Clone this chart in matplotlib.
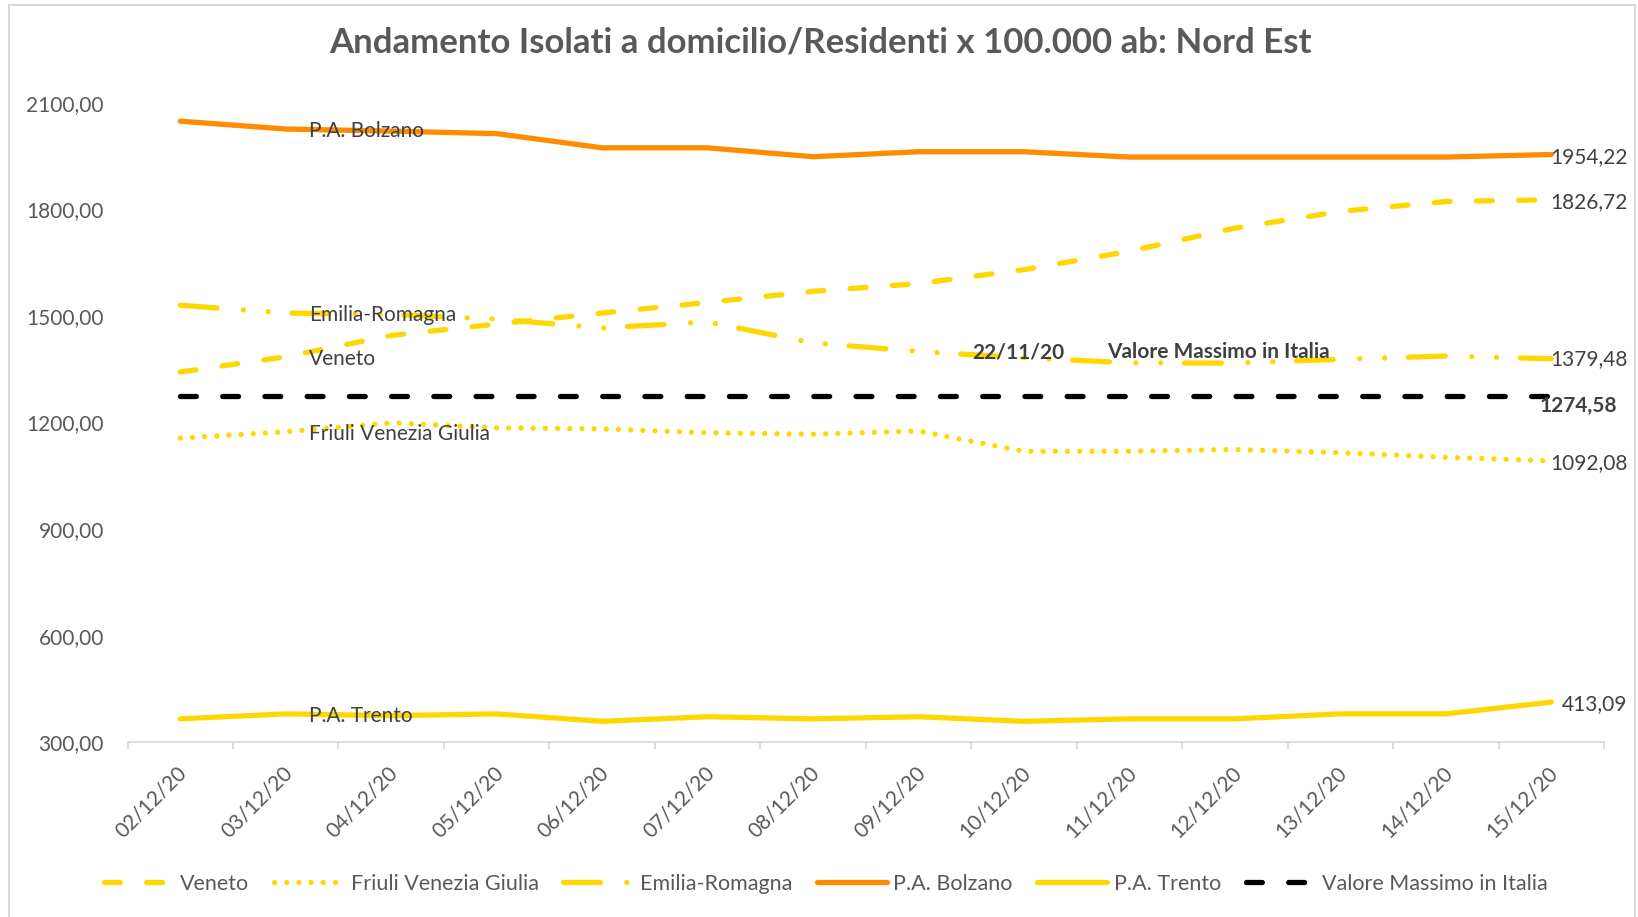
import matplotlib
matplotlib.use('Agg')
import matplotlib.pyplot as plt
import matplotlib.transforms as mtransforms
from matplotlib.lines import Line2D

# ---------------- data ----------------
dates = ['02/12/20', '03/12/20', '04/12/20', '05/12/20', '06/12/20', '07/12/20', '08/12/20',
         '09/12/20', '10/12/20', '11/12/20', '12/12/20', '13/12/20', '14/12/20', '15/12/20']
veneto = [1342, 1385, 1445, 1477, 1508, 1538, 1569, 1591, 1630, 1682, 1747, 1794, 1822, 1826.72]
friuli = [1156, 1174, 1199, 1185, 1182, 1171, 1167, 1176, 1119, 1119, 1124, 1115, 1102, 1092.08]
emilia = [1530, 1508, 1504, 1491, 1466, 1483, 1424, 1400, 1382, 1368, 1367, 1378, 1387, 1379.48]
bolzano = [2048, 2026, 2020, 2013, 1973, 1973, 1948, 1962, 1962, 1947, 1947, 1947, 1947, 1954.22]
trento = [366, 380, 375, 380, 359, 372, 366, 372, 359, 366, 366, 380, 380, 413.09]
valore_max = [1274.58] * len(dates)
series_names = ['Veneto', 'Friuli Venezia Giulia', 'Emilia-Romagna', 'P.A. Bolzano', 'P.A. Trento',
                'Valore Massimo in Italia']
y_ticks = [300, 600, 900, 1200, 1500, 1800, 2100]
title = 'Andamento Isolati a domicilio/Residenti x 100.000 ab: Nord Est'
annot_date = '22/11/20'
annot_text = 'Valore Massimo in Italia'
annot_value = 1398

plt.rcParams['font.family'] = ['Lato', 'DejaVu Sans']

W, H = 1638, 917
fig = plt.figure(figsize=(W / 100, H / 100), dpi=100)

# chart border
fig.add_artist(Line2D([9 / W, 9 / W], [0, 1 - 5 / H], transform=fig.transFigure, color='#d9d9d9', lw=1.5))
fig.add_artist(Line2D([1635 / W, 1635 / W], [0, 1 - 5 / H], transform=fig.transFigure, color='#d9d9d9', lw=1.5))
fig.add_artist(Line2D([9 / W, 1635 / W], [1 - 5 / H, 1 - 5 / H], transform=fig.transFigure, color='#d9d9d9', lw=1.5))

left, right, top, bottom = 127.5, 1604, 102.7, 742.3
ax = fig.add_axes([left / W, 1 - bottom / H, (right - left) / W, (bottom - top) / H])

YEL = '#FFD700'
ORA = '#FF8C00'
LW = 3.8
x = list(range(len(dates)))

l1, = ax.plot(x, veneto, color=YEL, lw=LW, dashes=(3, 5), dash_capstyle='round', label=series_names[0])
l2, = ax.plot(x, friuli, color=YEL, lw=LW, dashes=(0.01, 2.3), dash_capstyle='round', label=series_names[1])
l3, = ax.plot(x, emilia, color=YEL, lw=LW, dashes=(7, 5, 0.01, 4.7, 0.01, 4.5), dash_capstyle='round',
              label=series_names[2])
l4, = ax.plot(x, bolzano, color=ORA, lw=LW, solid_capstyle='round', label=series_names[3])
l5, = ax.plot(x, trento, color=YEL, lw=LW, solid_capstyle='round', label=series_names[4])
l6, = ax.plot(x, valore_max, color='black', lw=LW, dashes=(3, 5), dash_capstyle='round', label=series_names[5])

ax.set_xlim(-0.5, len(dates) - 0.5)
ax.set_ylim(300, 2100)

for s in ['top', 'right', 'left']:
    ax.spines[s].set_visible(False)
ax.spines['bottom'].set_color('#d9d9d9')
ax.spines['bottom'].set_linewidth(1.3)

ax.set_yticks(y_ticks)
ax.set_yticklabels([f'{v:.2f}'.replace('.', ',') for v in y_ticks])
ax.tick_params(axis='y', length=0, pad=17, labelsize=15, labelcolor='#595959')

ax.set_xticks([i - 0.5 for i in range(len(dates) + 1)])
ax.set_xticklabels([])
ax.tick_params(axis='x', which='major', length=5, width=1.3, color='#d9d9d9', direction='out')
ax.set_xticks(x, minor=True)
ax.set_xticklabels(dates, minor=True)
ax.tick_params(axis='x', which='minor', length=0, pad=19.5, labelsize=15, labelcolor='#595959')
offset = mtransforms.ScaledTranslation(3.5 / 100, 0, fig.dpi_scale_trans)
for lab in ax.get_xticklabels(minor=True):
    lab.set_rotation(45)
    lab.set_ha('right')
    lab.set_va('center')
    lab.set_rotation_mode('anchor')
    lab.set_transform(lab.get_transform() + offset)

TXT = '#404040'
PX = 0.72  # points per pixel

# series name labels at second category
for vals, name in zip([veneto, friuli, emilia, bolzano, trento], series_names[:5]):
    ax.annotate(name, xy=(1, vals[1]), xytext=(23 * PX, -2 * PX), textcoords='offset points',
                ha='left', va='center', fontsize=15, color=TXT)

# end value labels
last = len(dates) - 1
end_specs = [
    (bolzano[-1], -1, -2.5, 'normal'),
    (veneto[-1], -1, -2, 'normal'),
    (emilia[-1], -1, 0, 'normal'),
    (friuli[-1], -1, -2, 'normal'),
    (trento[-1], 11, -1.5, 'normal'),
    (valore_max[-1], -12, -10, 'bold'),
]
for v, dx, dy, w in end_specs:
    ax.annotate(f'{v:.2f}'.replace('.', ','), xy=(last, v), xytext=(dx * PX, dy * PX),
                textcoords='offset points', ha='left', va='center', fontsize=15, color=TXT,
                fontweight=w)

# annotation of maximum value
ax.text(7.508, annot_value, annot_date, ha='left', va='center', fontsize=15, color=TXT, fontweight='bold')
ax.text(8.788, annot_value, annot_text, ha='left', va='center', fontsize=15, color=TXT, fontweight='bold')

fig.text(820 / W, 1 - 53 / H, title, ha='center', va='baseline', fontsize=25, fontweight='bold',
         color='#595959')

fig.legend(handles=[l1, l2, l3, l4, l5, l6], loc='center', bbox_to_anchor=(0.5 * 1652 / W, 1 - 884 / H),
           ncol=6, frameon=False, fontsize=15.5, labelcolor='#595959', handlelength=3.25,
           handletextpad=0.3, columnspacing=1.15)

fig.savefig('out.png', dpi=100, facecolor='white')
